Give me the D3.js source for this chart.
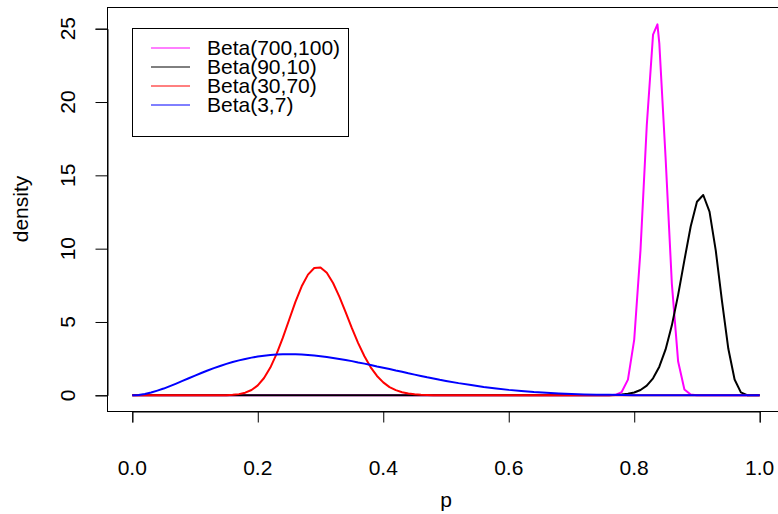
<!DOCTYPE html>
<html>
<head>
<meta charset="utf-8">
<title>beta densities</title>
<script src="https://cdn.jsdelivr.net/npm/d3@7"></script>
<style>
  body { margin: 0; background: #fff; }
  text { font-family: Arial, "Liberation Sans", sans-serif; fill: #000; }
</style>
</head>
<body>
<script>
var width = 778, height = 514;

// legend labels and colours, in drawing order
var seriesNames = ["Beta(700,100)", "Beta(90,10)", "Beta(30,70)", "Beta(3,7)"];
var seriesColors = ["#ff00ff", "#000000", "#ff0000", "#0000ff"];

// curves: [p, density]
var pinkPts = [[0,0],[0.76,0],[0.77,0.03],[0.78,0.22],[0.79,1.07],[0.80,3.8],[0.81,9.9],[0.82,18.4],
  [0.83,24.6],[0.837,25.3],[0.84,24.0],[0.85,16.2],[0.86,7.6],[0.87,2.3],[0.88,0.4],[0.89,0.05],
  [0.90,0],[1,0]];

var blackPts = [[0,0],[0.76,0],[0.77,0.02],[0.78,0.05],[0.79,0.1],[0.80,0.19],[0.81,0.36],[0.82,0.66],
  [0.83,1.16],[0.84,1.95],[0.85,3.13],[0.86,4.77],[0.87,6.85],[0.88,9.22],[0.89,11.51],[0.90,13.2],
  [0.91,13.66],[0.92,12.52],[0.93,9.86],[0.94,6.38],[0.95,3.17],[0.96,1.08],[0.97,0.2],[0.98,0.01],
  [0.99,0],[1,0]];

var redPts = [[0,0],[0.14,0],[0.15,0.01],[0.16,0.03],[0.17,0.08],[0.18,0.18],[0.19,0.36],[0.20,0.68],
  [0.21,1.18],[0.22,1.89],[0.23,2.82],[0.24,3.93],[0.25,5.15],[0.26,6.37],[0.27,7.43],[0.28,8.23],
  [0.29,8.68],[0.30,8.72],[0.31,8.36],[0.32,7.66],[0.33,6.73],[0.34,5.67],[0.35,4.58],[0.36,3.56],
  [0.37,2.66],[0.38,1.91],[0.39,1.32],[0.40,0.88],[0.41,0.56],[0.42,0.35],[0.43,0.21],[0.44,0.12],
  [0.45,0.07],[0.46,0.035],[0.47,0.018],[0.48,0],[1,0]];

var bluePts = [[0,0],[0.01,0.02],[0.02,0.09],[0.03,0.19],[0.04,0.32],[0.05,0.46],[0.06,0.63],
  [0.07,0.8],[0.08,0.98],[0.09,1.16],[0.10,1.34],[0.11,1.52],[0.12,1.69],[0.13,1.85],[0.14,2.0],
  [0.15,2.14],[0.16,2.27],[0.17,2.38],[0.18,2.48],[0.19,2.57],[0.20,2.64],[0.21,2.7],[0.22,2.75],
  [0.23,2.78],[0.24,2.8],[0.25,2.8],[0.26,2.8],[0.27,2.78],[0.28,2.75],[0.29,2.71],[0.30,2.67],
  [0.31,2.61],[0.32,2.55],[0.33,2.48],[0.34,2.41],[0.35,2.33],[0.36,2.24],[0.37,2.16],[0.38,2.07],
  [0.39,1.97],[0.40,1.88],[0.41,1.79],[0.42,1.69],[0.43,1.6],[0.44,1.5],[0.45,1.41],[0.46,1.32],
  [0.47,1.23],[0.48,1.15],[0.49,1.06],[0.50,0.98],[0.52,0.83],[0.54,0.7],[0.56,0.57],[0.58,0.47],
  [0.60,0.37],[0.62,0.29],[0.64,0.22],[0.66,0.17],[0.68,0.13],[0.70,0.09],[0.72,0.06],[0.74,0.04],
  [0.76,0.03],[0.78,0.02],[0.80,0.01],[0.85,0.002],[0.90,0],[1,0]];

var xTicks = [0, 0.2, 0.4, 0.6, 0.8, 1.0];
var yTicks = [0, 5, 10, 15, 20, 25];

var svg = d3.select("body").append("svg")
    .attr("width", width)
    .attr("height", height);

// plot region (right edge runs off the picture)
var box = {left: 107.5, top: 7.5, right: 785, bottom: 411.5};
var fontSize = "21px";

var x = d3.scaleLinear().domain([0, 1]).range([132.3, 759.7]);
var y = d3.scaleLinear().domain([0, 25]).range([395.3, 28.7]);

var line = d3.line()
    .x(function(d){ return x(d[0]); })
    .y(function(d){ return y(d[1]); });

[pinkPts, blackPts, redPts, bluePts].forEach(function(pts, i){
  svg.append("path")
     .attr("d", line(pts))
     .attr("fill", "none")
     .attr("stroke", seriesColors[i])
     .attr("stroke-width", 2)
     .attr("stroke-linejoin", "round");
});

// box
svg.append("rect")
   .attr("x", box.left).attr("y", box.top)
   .attr("width", box.right - box.left).attr("height", box.bottom - box.top)
   .attr("fill", "none").attr("stroke", "#000").attr("stroke-width", 1);

// y axis
var yAxis = d3.axisLeft(y).tickValues(yTicks).tickSize(12).tickFormat(d3.format("d"));
var gy = svg.append("g")
   .attr("transform", "translate(" + box.left + ",0)")
   .call(yAxis);
gy.select(".domain").attr("stroke", "#000");
gy.selectAll(".tick line").attr("stroke", "#000");
gy.selectAll(".tick text").remove();
svg.selectAll(".ylab")
   .data(yTicks).enter().append("text")
   .attr("class", "ylab")
   .attr("transform", function(d){ return "translate(75," + y(d) + ") rotate(-90)"; })
   .attr("text-anchor", "middle")
   .style("font-size", fontSize)
   .text(function(d){ return d; });

// x axis
var xAxis = d3.axisBottom(x).tickValues(xTicks).tickSize(11).tickFormat(d3.format(".1f"));
var gx = svg.append("g")
   .attr("transform", "translate(0," + box.bottom + ")")
   .call(xAxis);
gx.select(".domain").attr("stroke", "#000");
gx.selectAll(".tick line").attr("stroke", "#000");
gx.selectAll(".tick text").remove();
svg.selectAll(".xlab")
   .data(xTicks).enter().append("text")
   .attr("class", "xlab")
   .attr("x", function(d){ return x(d); })
   .attr("y", 475)
   .attr("text-anchor", "middle")
   .style("font-size", fontSize)
   .text(function(d){ return d3.format(".1f")(d); });

// axis titles
svg.append("text")
   .attr("x", 446).attr("y", 507)
   .attr("text-anchor", "middle")
   .style("font-size", fontSize)
   .text("p");
svg.append("text")
   .attr("transform", "translate(28,209) rotate(-90)")
   .attr("text-anchor", "middle")
   .style("font-size", fontSize)
   .text("density");

// legend
var leg = svg.append("g");
leg.append("rect")
   .attr("x", 132.5).attr("y", 28.5)
   .attr("width", 216).attr("height", 108)
   .attr("fill", "#fff").attr("stroke", "#000");
seriesNames.forEach(function(name, i){
  var ly = 48 + i * 19;
  leg.append("line")
     .attr("x1", 151).attr("x2", 190)
     .attr("y1", ly).attr("y2", ly)
     .attr("stroke", seriesColors[i]).attr("stroke-width", 1);
  leg.append("text")
     .attr("x", 207).attr("y", ly + 7)
     .style("font-size", fontSize)
     .text(name);
});
</script>
</body>
</html>
